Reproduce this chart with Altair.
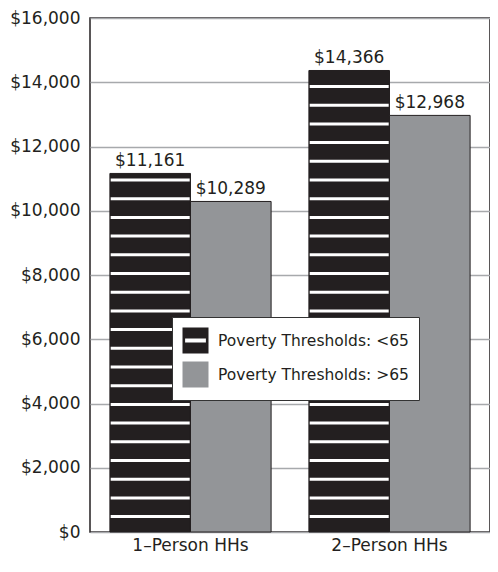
import altair as alt
import pandas as pd

categories = ["1–Person HHs", "2–Person HHs"]
series = ["Poverty Thresholds: <65", "Poverty Thresholds: >65"]
under65 = [11161, 14366]
over65 = [10289, 12968]
y_ticks = [0, 2000, 4000, 6000, 8000, 10000, 12000, 14000, 16000]

rows = []
for i, c in enumerate(categories):
    rows.append({"category": c, "series": series[0], "value": under65[i]})
    rows.append({"category": c, "series": series[1], "value": over65[i]})
df = pd.DataFrame(rows)

INK = "#231f20"
BLACK = "#231f20"
GRAY = "#939598"
FONT = "DejaVu Sans"

# texture of the striped bars (style, not data)
STRIPE_START = 480
STRIPE_STEP = 582.1

stripe_path = "M-1,-1H1V1H-1Z M-0.8,-0.15V0.15H0.8V-0.15Z"

legend_def = alt.Legend(
    title=None, orient="none", legendX=82, legendY=299,
    fillColor="white", strokeColor="#333333", padding=10,
    symbolSize=676, symbolStrokeColor=INK, symbolStrokeWidth=1, symbolOpacity=1,
    labelFont=FONT, labelFontSize=15.5, labelColor=INK, labelOffset=9,
    rowPadding=3, labelLimit=300,
)

fill_scale = alt.Scale(domain=series, range=[BLACK, GRAY])
x_enc = alt.X("category:N", sort=categories,
              scale=alt.Scale(paddingInner=0.19, paddingOuter=0.1),
              axis=alt.Axis(title=None, labelAngle=0, ticks=False, domain=False,
                            labelFont=FONT, labelFontSize=17, labelColor=INK,
                            labelPadding=5, grid=False))
xo_enc = alt.XOffset("series:N", sort=series, scale=alt.Scale(paddingInner=0, paddingOuter=0))
y_enc = alt.Y("value:Q", scale=alt.Scale(domain=[0, 16000], nice=False),
              axis=alt.Axis(title=None, values=y_ticks, format="$,.0f", ticks=False,
                            domain=False, labelFont=FONT, labelFontSize=17,
                            labelColor=INK, labelPadding=10, gridColor="#a7a9ac",
                            gridWidth=1.5))

base = alt.Chart(df)

bars = base.mark_bar(stroke=INK, strokeWidth=1).encode(
    x=x_enc, xOffset=xo_enc, y=y_enc,
    fill=alt.Fill("series:N", scale=fill_scale, legend=legend_def),
)

legend_helper = base.transform_filter("false").mark_point(filled=True, opacity=1).encode(
    x=alt.X("category:N", sort=categories),
    xOffset=alt.XOffset("series:N", sort=series),
    y=alt.Y("value:Q"),
    fill=alt.Fill("series:N", scale=fill_scale, legend=legend_def),
    shape=alt.Shape("series:N", scale=alt.Scale(domain=series, range=[stripe_path, "square"]),
                    legend=legend_def),
)

stripes = base.transform_filter(
    alt.datum.series == series[0]
).transform_calculate(
    k="sequence(0, 30)"
).transform_flatten(["k"]).transform_calculate(
    stripe_y=f"{STRIPE_START} + {STRIPE_STEP} * datum.k"
).transform_filter(
    "datum.stripe_y < datum.value - 150"
).mark_tick(color="white", thickness=3, size=79, orient="horizontal", opacity=1).encode(
    x=alt.X("category:N", sort=categories),
    xOffset=alt.XOffset("series:N", sort=series),
    y=alt.Y("stripe_y:Q"),
)

labels = base.mark_text(font=FONT, fontSize=17, color=INK, dy=-7, baseline="alphabetic").encode(
    x=alt.X("category:N", sort=categories),
    xOffset=alt.XOffset("series:N", sort=series),
    y=alt.Y("value:Q"),
    text=alt.Text("value:Q", format="$,.0f"),
)

chart = alt.layer(bars, stripes, labels, legend_helper).properties(
    width=400, height=514,
    background="white",
    autosize=alt.AutoSizeParams(type="none"),
    padding={"left": 82, "top": 10, "right": 0, "bottom": 25},
).configure_view(stroke=INK, strokeWidth=1.5)

chart.save("out.html", embed_options={"renderer": "svg", "actions": False})
